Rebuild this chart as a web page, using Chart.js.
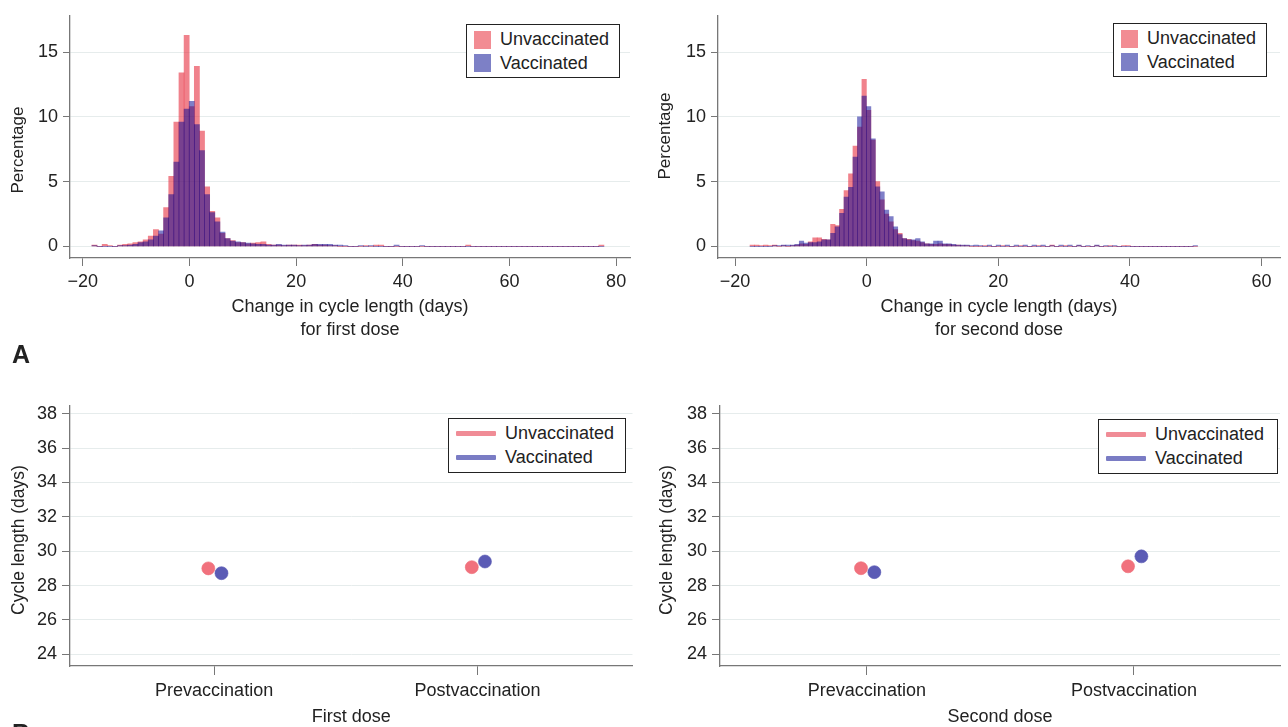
<!DOCTYPE html>
<html>
<head>
<meta charset="utf-8">
<script src="https://cdn.jsdelivr.net/npm/chart.js@4.4.1/dist/chart.umd.min.js"></script>
<style>
  body { margin: 0; width: 1288px; height: 727px; overflow: hidden; background: #fff; position: relative;
         font-family: "Liberation Sans", Arial, sans-serif; color: #222; }
  .panel { position: absolute; }
  .legend { position: absolute; border: 1.5px solid #222; background: #fff; box-sizing: border-box;
            padding: 3px 7px; font-size: 18px; }
  .legend .row { display: flex; align-items: center; height: 23.5px; white-space: nowrap; }
  .legend .sq { width: 17px; height: 18px; margin-right: 9px; }
  .legend .ln { width: 40px; height: 5px; margin-right: 9px; border-radius: 1px; }
  .tag { position: absolute; font-weight: bold; font-size: 25px; }
  .ytitle { position: absolute; white-space: nowrap; font-size: 17.5px; transform: translate(-50%, -50%) rotate(-90deg); }
</style>
</head>
<body>
<div class="panel" style="left:0;top:0;width:640px;height:345px"><canvas id="hist1"></canvas></div>
<div class="panel" style="left:648px;top:0;width:640px;height:345px"><canvas id="hist2"></canvas></div>
<div class="panel" style="left:0;top:390px;width:640px;height:337px"><canvas id="dots1"></canvas></div>
<div class="panel" style="left:650px;top:390px;width:638px;height:337px"><canvas id="dots2"></canvas></div>

<div class="ytitle" style="left:18px;top:150px;font-size:17px">Percentage</div>
<div class="ytitle" style="left:665px;top:136px;font-size:17px">Percentage</div>
<div class="ytitle" style="left:18px;top:540px">Cycle length (days)</div>
<div class="ytitle" style="left:666px;top:540px">Cycle length (days)</div>

<div class="legend" style="left:466px;top:24px;width:154px;height:54px">
  <div class="row"><span class="sq" style="background:#f28c93"></span>Unvaccinated</div>
  <div class="row"><span class="sq" style="background:#7d80c6"></span>Vaccinated</div>
</div>
<div class="legend" style="left:1113px;top:23px;width:154px;height:54px">
  <div class="row"><span class="sq" style="background:#f28c93"></span>Unvaccinated</div>
  <div class="row"><span class="sq" style="background:#7d80c6"></span>Vaccinated</div>
</div>
<div class="legend" style="left:448px;top:418px;width:178px;height:55px">
  <div class="row"><span class="ln" style="background:#f08c96"></span>Unvaccinated</div>
  <div class="row"><span class="ln" style="background:#7a7cc4"></span>Vaccinated</div>
</div>
<div class="legend" style="left:1098px;top:419px;width:180px;height:55px">
  <div class="row"><span class="ln" style="background:#f08c96"></span>Unvaccinated</div>
  <div class="row"><span class="ln" style="background:#7a7cc4"></span>Vaccinated</div>
</div>
<div class="tag" style="left:12px;top:340px">A</div>
<div class="tag" style="left:12px;top:719px">B</div>

<script>
// histogram bins: 100 bins per panel
const binStart1 = -18.29, binWidth1 = 0.96;
const binStart2 = -17.73, binWidth2 = 0.68;

// first dose, % per bin
const unvacc1 = [
  0.1, 0, 0.15, 0.05, 0, 0.1, 0.15, 0.2, 0.3, 0.35,
  0.5, 0.8, 1.3, 0.95, 3.0, 5.4, 9.6, 13.4, 16.3, 10.8,
  13.9, 8.9, 4.6, 2.7, 2.2, 1.0, 0.6, 0.45, 0.3, 0.3,
  0.2, 0.25, 0.3, 0.35, 0.15, 0.1, 0.1, 0.05, 0.1, 0.1,
  0.1, 0.05, 0.1, 0.15, 0.1, 0.1, 0.05, 0.05, 0, 0,
  0, 0, 0, 0.05, 0, 0.1, 0.1, 0, 0, 0,
  0, 0, 0, 0, 0, 0, 0, 0, 0, 0,
  0, 0, 0, 0.1, 0, 0, 0, 0, 0, 0,
  0, 0, 0, 0, 0, 0, 0, 0, 0, 0,
  0, 0, 0, 0, 0, 0, 0, 0, 0, 0.1
];
const vacc1 = [
  0.05, 0, 0, 0, 0, 0.05, 0.05, 0.1, 0.15, 0.3,
  0.35, 0.5, 0.8, 1.2, 2.2, 4.0, 6.5, 9.6, 10.6, 11.2,
  9.4, 7.4, 4.0, 2.6, 1.9, 1.1, 0.6, 0.4, 0.35, 0.3,
  0.25, 0.2, 0.15, 0.15, 0.1, 0.1, 0.15, 0.1, 0.1, 0.1,
  0.05, 0.1, 0.1, 0.15, 0.15, 0.15, 0.15, 0.1, 0.1, 0.05,
  0, 0, 0.05, 0, 0.05, 0, 0, 0, 0, 0.1,
  0, 0, 0, 0, 0.05, 0, 0, 0, 0, 0,
  0, 0, 0, 0, 0, 0, 0, 0, 0, 0,
  0, 0, 0, 0, 0, 0, 0, 0, 0, 0,
  0, 0, 0, 0, 0, 0, 0, 0, 0, 0
];

// second dose, % per bin
const unvacc2 = [
  0.1, 0.1, 0.05, 0.1, 0.05, 0.1, 0, 0.05, 0, 0.05,
  0.1, 0.2, 0.15, 0.35, 0.65, 0.65, 0.55, 0.5, 1.7, 1.6,
  2.85, 4.3, 5.6, 7.75, 9.2, 12.9, 10.5, 8.2, 5.0, 3.6,
  2.5, 1.9, 1.3, 1.0, 0.6, 0.55, 0.45, 0.4, 0.3, 0.2,
  0.15, 0.15, 0.2, 0.15, 0.15, 0.1, 0.1, 0.05, 0.05, 0,
  0, 0, 0.05, 0, 0, 0, 0.05, 0, 0, 0,
  0.05, 0, 0, 0, 0.05, 0, 0, 0.1, 0, 0,
  0.05, 0, 0, 0.05, 0, 0, 0, 0.05, 0, 0,
  0.05, 0, 0, 0.05, 0.05, 0, 0, 0, 0, 0,
  0, 0, 0, 0, 0, 0, 0, 0, 0, 0
];
const vacc2 = [
  0, 0, 0, 0, 0, 0.05, 0.05, 0.1, 0.1, 0.1,
  0.15, 0.4, 0.25, 0.3, 0.3, 0.35, 0.5, 0.5, 1.0, 1.5,
  2.55, 3.8, 4.55, 6.9, 10.0, 11.6, 10.8, 8.3, 4.6, 4.2,
  2.8, 2.3, 1.5, 0.9, 0.6, 0.5, 0.5, 0.6, 0.35, 0.2,
  0.2, 0.4, 0.4, 0.2, 0.2, 0.15, 0.1, 0.1, 0.1, 0.05,
  0.1, 0.05, 0, 0.1, 0, 0.1, 0, 0.1, 0, 0.1,
  0, 0.1, 0, 0.1, 0, 0.1, 0, 0.05, 0, 0.1,
  0, 0.1, 0, 0.1, 0, 0.05, 0, 0.1, 0, 0.05,
  0, 0.05, 0, 0, 0, 0, 0, 0, 0, 0,
  0, 0, 0, 0, 0, 0, 0, 0, 0, 0.05
];

const histXTicks1 = [-20, 0, 20, 40, 60, 80];
const histXTicks2 = [-20, 0, 20, 40, 60];
const histYTicks = [0, 5, 10, 15];

// mean cycle length (days): [Prevaccination, Postvaccination]
const periods = ['Prevaccination', 'Postvaccination'];
const unvaccMean1 = [29.0, 29.07];
const vaccMean1 = [28.72, 29.4];
const unvaccMean2 = [29.01, 29.12];
const vaccMean2 = [28.78, 29.7];
const cycleYTicks = [24, 26, 28, 30, 32, 34, 36, 38];

const RED = 'rgba(230,47,63,0.6)';
const BLUE = 'rgba(0,0,145,0.5)';
const AXIS = '#777';
const GRID = '#e6ecec';
const TXT = '#222';
const FONT = '"Liberation Sans", Arial, sans-serif';

Chart.defaults.font.family = FONT;
Chart.defaults.color = TXT;
Chart.defaults.animation = false;

const minus = (v) => String(v).replace('-', '\u2212');

function fixTicks(list) {
  return (scale) => { scale.ticks = list.map((v) => ({ value: v })); };
}

function histChart(id, start, width, red, blue, xr, xticks, doseText) {
  const pts = (arr) => arr.map((v, i) => ({ x: start + width * (i + 0.5), y: v }));
  return new Chart(document.getElementById(id), {
    type: 'bar',
    data: {
      datasets: [
        { label: 'Unvaccinated', data: pts(red), backgroundColor: RED, order: 2 },
        { label: 'Vaccinated', data: pts(blue), backgroundColor: BLUE, order: 1 },
      ],
    },
    options: {
      responsive: true,
      maintainAspectRatio: false,
      layout: { padding: { top: 10, right: 640 - xr.right } },
      plugins: { legend: { display: false }, tooltip: { enabled: false } },
      datasets: { bar: { barPercentage: 1, categoryPercentage: 1, grouped: false, borderWidth: 0 } },
      scales: {
        x: {
          type: 'linear', min: xr.min, max: xr.max, offset: false,
          afterBuildTicks: fixTicks(xticks),
          afterFit: (s) => { s.height = 87; },
          grid: { offset: false, drawOnChartArea: false, tickColor: AXIS, tickLength: 8 },
          border: { color: AXIS, width: 1.3 },
          ticks: { font: { size: 18 }, color: TXT, padding: 5, maxRotation: 0, callback: minus },
          title: { display: true, text: ['Change in cycle length (days)', doseText],
                   font: { size: 18, lineHeight: 1.25 }, color: TXT, padding: { top: 0, bottom: 4 } },
        },
        y: {
          min: -0.9, max: 17.8,
          afterBuildTicks: fixTicks(histYTicks),
          afterFit: (s) => { s.width = 70; },
          grid: { color: GRID, tickColor: AXIS, tickLength: 7 },
          border: { color: AXIS, width: 1.3 },
          ticks: { font: { size: 18 }, color: TXT, padding: 5 },
        },
      },
    },
  });
}

function dotChart(id, unv, vac, xr, doseText) {
  const dodge = (arr, d) => arr.map((v, i) => ({ x: i + 1 + d, y: v }));
  return new Chart(document.getElementById(id), {
    type: 'scatter',
    data: {
      datasets: [
        { label: 'Unvaccinated', data: dodge(unv, -0.022), backgroundColor: 'rgba(238,78,92,0.8)',
          borderColor: 'rgba(238,110,120,0.6)', borderWidth: 1, pointRadius: 6.5 },
        { label: 'Vaccinated', data: dodge(vac, 0.028), backgroundColor: 'rgba(62,62,168,0.85)',
          borderColor: 'rgba(90,90,180,0.6)', borderWidth: 1, pointRadius: 6.5 },
      ],
    },
    options: {
      responsive: true,
      maintainAspectRatio: false,
      layout: { padding: { top: 10, right: xr.padRight } },
      plugins: { legend: { display: false }, tooltip: { enabled: false } },
      scales: {
        x: {
          type: 'linear', min: xr.min, max: xr.max,
          afterBuildTicks: fixTicks([1, 2]),
          afterFit: (s) => { s.height = 61; },
          grid: { drawOnChartArea: false, tickColor: AXIS, tickLength: 9 },
          border: { color: AXIS, width: 1.3 },
          ticks: { font: { size: 18 }, color: TXT, padding: 5, maxRotation: 0,
                    callback: (v) => periods[v - 1] },
          title: { display: true, text: doseText, font: { size: 18, lineHeight: 1.25 }, color: TXT,
                   padding: { top: 0, bottom: -1 } },
        },
        y: {
          min: 23.32, max: 38.46,
          afterBuildTicks: fixTicks(cycleYTicks),
          afterFit: (s) => { s.width = 70; },
          grid: { color: GRID, tickColor: AXIS, tickLength: 8 },
          border: { color: AXIS, width: 1.3 },
          ticks: { font: { size: 18 }, color: TXT, padding: 5 },
        },
      },
    },
  });
}

histChart('hist1', binStart1, binWidth1, unvacc1, vacc1, { min: -22.4, max: 82.6, right: 630 },
  histXTicks1, 'for first dose');
histChart('hist2', binStart2, binWidth2, unvacc2, vacc2, { min: -22.6, max: 62.8, right: 632 },
  histXTicks2, 'for second dose');
dotChart('dots1', unvaccMean1, vaccMean1, { min: 0.453, max: 2.588, padRight: 0 }, 'First dose');
dotChart('dots2', unvaccMean2, vaccMean2, { min: 0.45, max: 2.547, padRight: 8 }, 'Second dose');
</script>
</body>
</html>
